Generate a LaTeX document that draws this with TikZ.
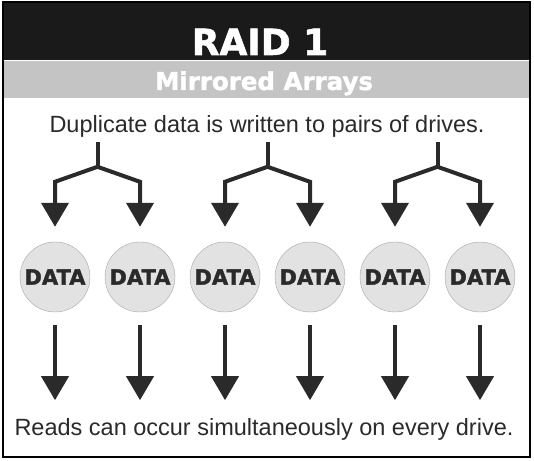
\documentclass[tikz,border=0pt]{standalone}
\usepackage{fontspec}
\setmainfont{Liberation Sans}
\newfontfamily\heavyfont{DejaVu Sans}[BoldFeatures={FakeBold=1.6}]
\usetikzlibrary{positioning, arrows.meta}
\usetikzlibrary{calc}
\usepackage{xcolor}
\definecolor{mDarkBand}{HTML}{1A1A1A}
\definecolor{mGreyBand}{HTML}{C4C4C4}
\definecolor{mDisk}{HTML}{E2E2E2}
\definecolor{mInk}{HTML}{2A2A2A}
\tikzset{
  x=1pt, y=1pt,
  node distance=14.6pt,
  disk/.style={circle, draw=gray!70, fill=mDisk, minimum size=70pt, inner sep=0pt, text=mInk, font=\heavyfont\bfseries\fontsize{21}{21}\selectfont},
  caption/.style={inner sep=0pt, anchor=base, text=mInk, font=\fontsize{23.5}{24}\selectfont},
  heading/.style={inner sep=0pt, anchor=base, text=white, font=\heavyfont\bfseries\fontsize{36}{36}\selectfont},
  subheading/.style={inner sep=0pt, anchor=base, text=white, font=\heavyfont\bfseries\fontsize{24.5}{25}\selectfont},
  fork/.style={draw=mInk, line width=4pt, line join=miter},
  flow/.style={fork, -{Triangle[width=27pt, length=24pt]}}
}

\begin{document}
\begin{tikzpicture}
    \useasboundingbox (0,0) rectangle (534,460);
    % title bands
    \fill[mDarkBand] (3,400) rectangle (530,458);
    \fill[mGreyBand] (3,362) rectangle (530,399);
    \node[heading] (raid) at (260,405) {RAID 1};
    \node[subheading] (mirror) at (264,370) {Mirrored Arrays};

    \node[caption] (dup) at (267,327) {Duplicate data is written to pairs of drives.};
    \node[caption] (reads) at (264,25) {Reads can occur simultaneously on every drive.};

    % drives
    \node[disk] (d1) at (55,183) {DATA};
    \node[disk, right=of d1] (d2) {DATA};
    \node[disk, right=of d2] (d3) {DATA};
    \node[disk, right=of d3] (d4) {DATA};
    \node[disk, right=of d4] (d5) {DATA};
    \node[disk, right=of d5] (d6) {DATA};

    % write forks
    \coordinate (j1) at ($(d1.north)!0.5!(d2.north)+(0,75)$);
    \coordinate (j2) at ($(d3.north)!0.5!(d4.north)+(0,75)$);
    \coordinate (j3) at ($(d5.north)!0.5!(d6.north)+(0,75)$);
    \draw[fork] (j1) -- ++(0,25);
    \draw[fork] (j2) -- ++(0,25);
    \draw[fork] (j3) -- ++(0,25);
    \draw[flow] (j1) -- ($(d1.north)+(0,60)$) -- ($(d1.north)+(0,15)$);
    \draw[flow] (j1) -- ($(d2.north)+(0,60)$) -- ($(d2.north)+(0,15)$);
    \draw[flow] (j2) -- ($(d3.north)+(0,60)$) -- ($(d3.north)+(0,15)$);
    \draw[flow] (j2) -- ($(d4.north)+(0,60)$) -- ($(d4.north)+(0,15)$);
    \draw[flow] (j3) -- ($(d5.north)+(0,60)$) -- ($(d5.north)+(0,15)$);
    \draw[flow] (j3) -- ($(d6.north)+(0,60)$) -- ($(d6.north)+(0,15)$);

    % reads
    \draw[flow] ($(d1.south)+(0,-13)$) -- ($(d1.south)+(0,-88)$);
    \draw[flow] ($(d2.south)+(0,-13)$) -- ($(d2.south)+(0,-88)$);
    \draw[flow] ($(d3.south)+(0,-13)$) -- ($(d3.south)+(0,-88)$);
    \draw[flow] ($(d4.south)+(0,-13)$) -- ($(d4.south)+(0,-88)$);
    \draw[flow] ($(d5.south)+(0,-13)$) -- ($(d5.south)+(0,-88)$);
    \draw[flow] ($(d6.south)+(0,-13)$) -- ($(d6.south)+(0,-88)$);

    % frame
    \draw[black, line width=2.5pt] (3,3) rectangle (530,458);
\end{tikzpicture}
\end{document}
